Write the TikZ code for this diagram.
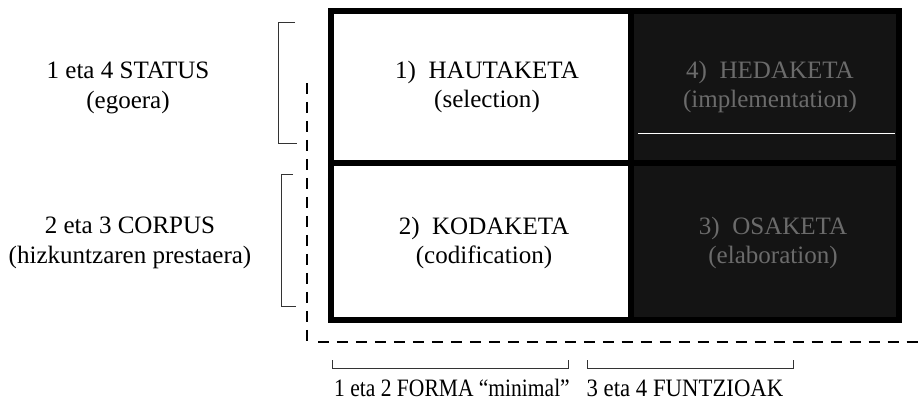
\documentclass[tikz,border=0pt]{standalone}
\usepackage{fontspec}
\setmainfont{Liberation Serif}
\begin{document}
\begin{tikzpicture}[x=0.025cm,y=-0.025cm,
    lbl/.style={font=\fontsize{17.8}{21}\selectfont, align=center},
    dlbl/.style={lbl, text=black!58},
    blbl/.style={font=\fontsize{17.8}{21}\selectfont},
    brk/.style={line width=0.5pt, black!80},
    dsh/.style={line width=0.8pt, dash pattern=on 8pt off 5.5pt}]
    \useasboundingbox (0,0) rectangle (921,401);
    \fill [black!92] (631,11) rectangle (899,320); 
    \draw [white, line width=0.6pt] (638,133) -- (895,133); 
    \draw [line width=3.6pt] (331,11) rectangle (899,320); 
    \draw [line width=3.6pt] (631,11) -- (631,320); 
    \draw [line width=3.6pt] (331,163) -- (899,163); 
    \node [lbl] (hau) at (487,87) {1)~~HAUTAKETA\\(selection)};
    \node [lbl] (kod) at (484,243) {2)~~KODAKETA\\(codification)};
    \node [dlbl] (hed) at (770,87) {4)~~HEDAKETA\\(implementation)};
    \node [dlbl] (osa) at (773,243) {3)~~OSAKETA\\(elaboration)};
    \draw [brk] (295,22) -- (278,22) -- (278,143) -- (297,143); 
    \draw [brk] (293,174) -- (281,174) -- (281,306) -- (296,306); 
    \draw [brk] (332,360) -- (332,368) -- (568,368) -- (568,360); 
    \draw [brk] (587,360) -- (587,368) -- (793,368) -- (793,360); 
    \draw [dsh] (307,83) -- (307,347); 
    \draw [dsh] (318,342) -- (921,342); 
    \node [lbl] (sta) at (128,88) {1 eta 4 STATUS\\(egoera)};
    \node [lbl] (cor) at (130,243) {2 eta 3 CORPUS\\(hizkuntzaren prestaera)};
    \node [blbl] (for) at (452,388) {\scalebox{0.86}[1]{1 eta 2 FORMA ``minimal''}};
    \node [blbl] (fun) at (685,388) {\scalebox{0.91}[1]{3 eta 4 FUNTZIOAK}};
\end{tikzpicture}
\end{document}
